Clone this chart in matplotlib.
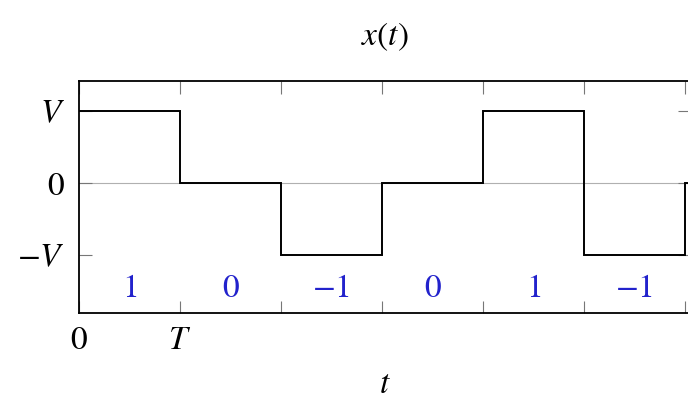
import matplotlib

matplotlib.use("Agg")
import matplotlib.pyplot as plt

# signal levels per symbol interval (in units of V) and the symbols drawn under them
levels = [1, 0, -1, 0, 1, -1, 0]
symbols = ["1", "0", "-1", "0", "1", "-1"]
xtick_pos = [0, 1]
xtick_labels = ["$0$", "$T$"]
ytick_pos = [1, 0, -1]
ytick_labels = ["$V$", "$0$", "$-V$"]

plt.rcParams["mathtext.fontset"] = "stix"
plt.rcParams["font.family"] = "STIXGeneral"

FS = 24

fig = plt.figure(figsize=(6.88, 4.01), dpi=100)
# axes run past the right edge of the figure on purpose
ax = fig.add_axes([79 / 688, 1 - 313 / 401, 611 / 688, 232 / 401])

# step waveform: hold each level over [k, k+1)
xs, ys = [], []
for k, lv in enumerate(levels):
    xs += [k, k + 1]
    ys += [lv, lv]
ax.plot(xs, ys, color="black", lw=1.4, solid_joinstyle="miter", zorder=3)
ax.axhline(0, color="#b0b0b0", lw=0.8, zorder=1)

for k, s in enumerate(symbols):
    ax.text(k + 0.5, -1.47, f"${s}$", color="#2222cc", fontsize=FS,
            ha="center", va="center")

ax.set_xlim(0, 6.05)
ax.set_ylim(-1.8, 1.42)
ax.set_xticks(range(7))
ax.set_xticklabels(xtick_labels + [""] * 5)
ax.set_yticks(ytick_pos)
ax.set_yticklabels(ytick_labels)
ax.tick_params(direction="in", top=True, right=True, length=9, width=0.8,
               color="#777777", labelsize=FS, pad=10)
for sp in ax.spines.values():
    sp.set_linewidth(1.3)

ax.set_title("$x(t)$", fontsize=FS, pad=26)
ax.set_xlabel("$t$", fontsize=FS, labelpad=10)

fig.savefig("out.png", dpi=100)
